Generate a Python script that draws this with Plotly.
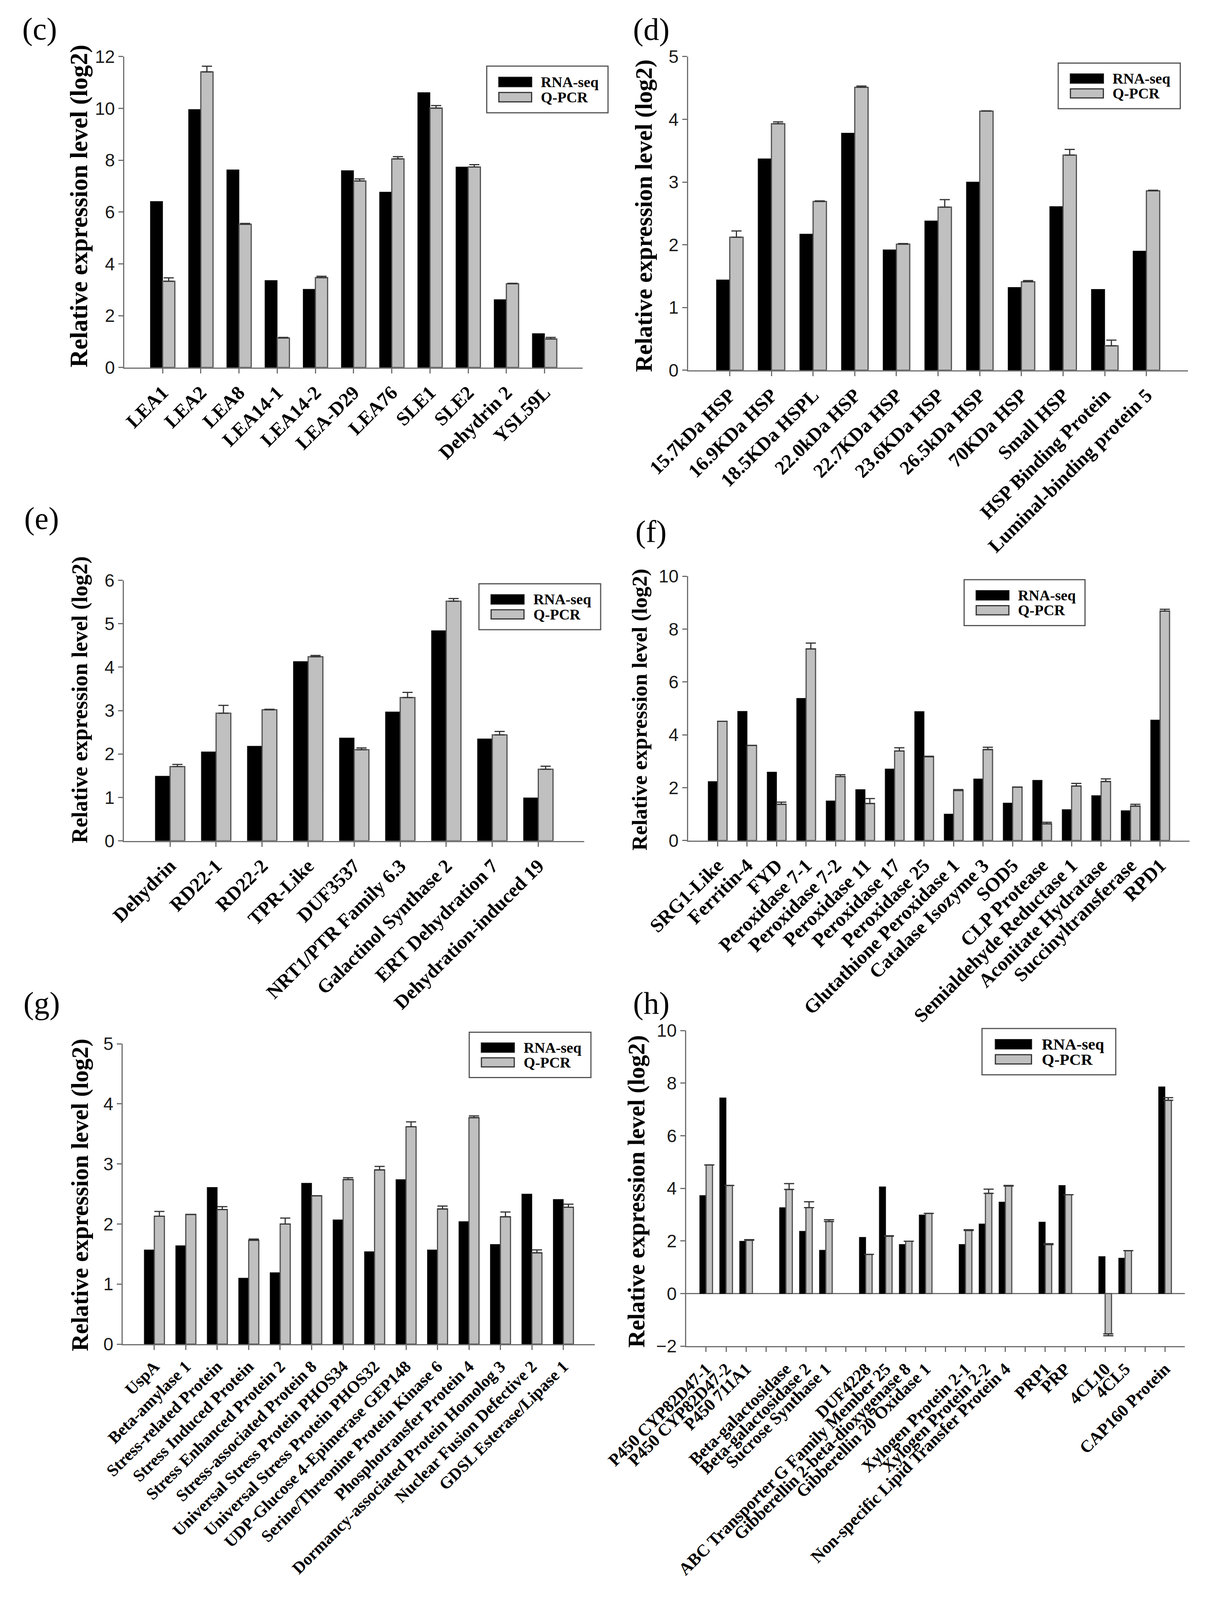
import plotly.graph_objects as go

# reference coordinate system (pixels of the original picture)
REF_W, REF_H = 3099, 4664
# size of the drawn figure (fits the visible browser area)
FIG_W, FIG_H = 3083, 4066

# ---------------- data ----------------
c_genes = ["LEA1", "LEA2", "LEA8", "LEA14-1", "LEA14-2", "LEA-D29", "LEA76",
           "SLE1", "SLE2", "Dehydrin 2", "YSL59L"]
c_rna = [6.41, 9.96, 7.63, 3.36, 3.02, 7.60, 6.77, 10.61, 7.74, 2.62, 1.31]
c_qpcr = [3.33, 11.41, 5.53, 1.14, 3.47, 7.20, 8.05, 10.01, 7.74, 3.23, 1.10]
c_err = [0.13, 0.22, 0.03, 0.02, 0.05, 0.08, 0.09, 0.10, 0.09, 0.02, 0.06]

d_genes = ["15.7kDa HSP", "16.9KDa HSP", "18.5KDa HSPL", "22.0kDa HSP",
           "22.7KDa HSP", "23.6KDa HSP", "26.5kDa HSP", "70KDa HSP",
           "Small HSP", "HSP Binding Protein", "Luminal-binding protein 5"]
d_rna = [1.44, 3.37, 2.17, 3.78, 1.92, 2.38, 3.00, 1.32, 2.61, 1.29, 1.90]
d_qpcr = [2.12, 3.93, 2.69, 4.51, 2.01, 2.60, 4.13, 1.41, 3.43, 0.39, 2.86]
d_err = [0.10, 0.03, 0.01, 0.02, 0.01, 0.12, 0.005, 0.02, 0.09, 0.09, 0.01]

e_genes = ["Dehydrin", "RD22-1", "RD22-2", "TPR-Like", "DUF3537",
           "NRT1/PTR Family 6.3", "Galactinol Synthase 2", "ERT Dehydration 7",
           "Dehydration-induced 19"]
e_rna = [1.49, 2.05, 2.18, 4.13, 2.37, 2.97, 4.84, 2.35, 0.99]
e_qpcr = [1.71, 2.94, 3.02, 4.24, 2.10, 3.30, 5.52, 2.44, 1.65]
e_err = [0.05, 0.18, 0.01, 0.03, 0.04, 0.12, 0.06, 0.08, 0.07]

f_genes = ["SRG1-Like", "Ferritin-4", "FYD", "Peroxidase 7-1", "Peroxidase 7-2",
           "Peroxidase 11", "Peroxidase 17", "Peroxidase 25",
           "Glutathione Peroxidase 1", "Catalase Isozyme 3", "SOD5",
           "CLP Protease", "Semialdehyde Reductase 1", "Aconitate Hydratase",
           "Succinyltransferase", "RPD1"]
f_rna = [2.23, 4.89, 2.59, 5.38, 1.50, 1.93, 2.71, 4.88, 1.00, 2.33, 1.42,
         2.28, 1.17, 1.70, 1.13, 4.56]
f_qpcr = [4.51, 3.60, 1.37, 7.25, 2.42, 1.40, 3.39, 3.17, 1.89, 3.44, 2.02,
          0.63, 2.06, 2.23, 1.30, 8.68]
f_err = [0.0, 0.0, 0.08, 0.22, 0.07, 0.19, 0.12, 0.02, 0.04, 0.09, 0.0,
         0.06, 0.10, 0.10, 0.07, 0.07]

g_genes = ["UspA", "Beta-amylase 1", "Stress-related Protein",
           "Stress Induced Protein", "Stress Enhanced Protein 2",
           "Stress-associated Protein 8", "Universal Stress Protein PHOS34",
           "Universal Stress Protein PHOS32", "UDP-Glucose 4-Epimerase GEP148",
           "Serine/Threonine Protein Kinase 6", "Phosphotransfer Protein 4",
           "Dormancy-associated Protein Homolog 3", "Nuclear Fusion Defective 2",
           "GDSL Esterase/Lipase 1"]
g_rna = [1.57, 1.64, 2.61, 1.10, 1.19, 2.68, 2.07, 1.54, 2.74, 1.57, 2.04,
         1.66, 2.50, 2.41]
g_qpcr = [2.13, 2.16, 2.24, 1.73, 2.00, 2.47, 2.74, 2.90, 3.62, 2.25, 3.77,
          2.12, 1.52, 2.28]
g_err = [0.08, 0.0, 0.05, 0.02, 0.10, 0.0, 0.03, 0.06, 0.08, 0.05, 0.03,
         0.08, 0.05, 0.05]

# blank slots (" ", "  ", ...) are the empty positions on the axis
h_genes = ["P450 CYP82D47-1", "P450 CYP82D47-2", "P450 711A1", " ",
           "Beta-galactosidase", "Beta-galactosidase 2", "Sucrose Synthase 1", "  ",
           "DUF4228", "ABC Transporter G Family Member 25",
           "Gibberellin 2-beta-dioxygenase 8", "Gibberellin 20 Oxidase 1", "   ",
           "Xylogen Protein 2-1", "Xylogen Protein 2-2",
           "Non-specific Lipid Transfer Protein 4", "    ",
           "PRP1", "PRP", "     ", "4CL10", "4CL5", "      ", "CAP160 Protein"]
h_rna = [3.73, 7.44, 1.99, None, 3.27, 2.37, 1.65, None, 2.14, 4.06, 1.87, 2.99,
         None, 1.87, 2.65, 3.48, None, 2.72, 4.11, None, 1.41, 1.35, None, 7.86]
h_qpcr = [4.89, 4.11, 2.03, None, 3.96, 3.27, 2.74, None, 1.49, 2.18, 1.99, 3.05,
          None, 2.40, 3.81, 4.09, None, 1.86, 3.76, None, -1.53, 1.63, None, 7.35]
h_err = [0.0, 0.0, 0.02, 0.0, 0.22, 0.22, 0.07, 0.0, 0.0, 0.02, 0.0, 0.0,
         0.0, 0.03, 0.16, 0.02, 0.0, 0.04, 0.0, 0.0, 0.07, 0.0, 0.0, 0.10]

series_names = ["RNA-seq", "Q-PCR"]
y_title = "Relative expression level (log2)"

# ---------------- layout spec (reference pixels) ----------------
panels = [
    dict(label="(c)", genes=c_genes, rna=c_rna, qpcr=c_qpcr, err=c_err,
         yr=[0, 12], dt=2, box=(312, 1491, 157, 1070),
         leg=(1244, 185, 1556, 322), lab=(94, 76), tx=195, tfs=63, tyc=596,
         lfs=38, xfs=50),
    dict(label="(d)", genes=d_genes, rna=d_rna, qpcr=d_qpcr, err=d_err,
         yr=[0, 5], dt=1, box=(1762, 3048, 157, 1078),
         leg=(2714, 176, 3028, 310), lab=(1667, 78), tx=1649, tfs=61, tyc=624,
         lfs=38, xfs=50),
    dict(label="(e)", genes=e_genes, rna=e_rna, qpcr=e_qpcr, err=e_err,
         yr=[0, 6], dt=1, box=(311, 1495, 1695, 2460),
         leg=(1224, 1705, 1537, 1840), lab=(99, 1513), tx=198, tfs=56, tyc=2045,
         lfs=38, xfs=50),
    dict(label="(f)", genes=f_genes, rna=f_rna, qpcr=f_qpcr, err=f_err,
         yr=[0, 10], dt=2, box=(1762, 3052, 1683, 2459),
         leg=(2472, 1693, 2783, 1828), lab=(1667, 1552), tx=1637, tfs=55, tyc=2075,
         lfs=38, xfs=50),
    dict(label="(g)", genes=g_genes, rna=g_rna, qpcr=g_qpcr, err=g_err,
         yr=[0, 5], dt=1, box=(308, 1522, 3056, 3938),
         leg=(1199, 3022, 1512, 3155), lab=(99, 2937), tx=198, tfs=61, tyc=3500,
         lfs=38, xfs=43),
    dict(label="(h)", genes=h_genes, rna=h_rna, qpcr=h_qpcr, err=h_err,
         yr=[-2, 10], dt=2, box=(1757, 3040, 3017, 3944),
         leg=(2518, 3011, 2862, 3147), lab=(1667, 2937), tx=1629, tfs=61, tyc=3490,
         lfs=41, xfs=44),
]

AX = "#6e6e6e"
GRAY = "#c0c0c0"
GRAY_EDGE = "#505050"
SERIF = "Liberation Serif"
SANS = "Liberation Sans"


def px(x):
    return x / REF_W


def py(y):
    return 1 - y / REF_H


fig = go.Figure()
shapes, annotations = [], []
layout = {}

for i, p in enumerate(panels):
    n = "" if i == 0 else str(i + 1)
    xa, ya = "x" + n, "y" + n
    genes = p["genes"]
    plus = [e if (v is not None and v >= 0) else 0 for v, e in zip(p["qpcr"], p["err"])]
    minus = [e if (v is not None and v < 0) else 0 for v, e in zip(p["qpcr"], p["err"])]

    fig.add_trace(go.Bar(
        x=genes, y=p["rna"], name=series_names[0], xaxis=xa, yaxis=ya,
        marker=dict(color="black", line=dict(color="#111111", width=1.5)),
        showlegend=False))
    fig.add_trace(go.Bar(
        x=genes, y=p["qpcr"], name=series_names[1], xaxis=xa, yaxis=ya,
        marker=dict(color=GRAY, line=dict(color=GRAY_EDGE, width=3)),
        error_y=dict(type="data", symmetric=False, array=plus, arrayminus=minus,
                     color="#333333", thickness=3, width=13),
        showlegend=False))

    x0, x1, yt, yb = p["box"]
    layout["xaxis" + n] = dict(
        domain=[px(x0), px(x1)], anchor=ya, type="category",
        categoryorder="array", categoryarray=genes, automargin=False,
        tickmode="array", tickvals=genes, ticktext=genes,
        range=[-1, len(genes)], showline=True, linecolor=AX, linewidth=3,
        ticks="outside", ticklen=12, tickwidth=3, tickcolor=AX,
        tickangle=-45, showgrid=False, zeroline=False,
        tickfont=dict(family=SERIF, size=p["xfs"], color="black", weight="bold"))
    layout["yaxis" + n] = dict(
        domain=[py(yb), py(yt)], anchor=xa, range=p["yr"], dtick=p["dt"],
        automargin=False,
        showline=True, linecolor=AX, linewidth=3,
        ticks="outside", ticklen=12, tickwidth=3, tickcolor=AX,
        showgrid=False, zeroline=p["yr"][0] < 0, zerolinecolor=AX,
        zerolinewidth=3,
        tickfont=dict(family=SANS, size=46, color="#1a1a1a"))

    # panel label
    annotations.append(dict(
        text=p["label"], x=px(p["lab"][0]), y=py(p["lab"][1]),
        xref="paper", yref="paper", showarrow=False, xanchor="center",
        yanchor="middle", font=dict(family=SERIF, size=80, color="black")))
    # y title
    annotations.append(dict(
        text=y_title, textangle=-90,
        x=px(p["tx"]), y=py(p["tyc"]), xref="paper", yref="paper",
        showarrow=False, xanchor="center", yanchor="middle",
        font=dict(family=SERIF, size=p["tfs"], color="black", weight="bold")))

    # legend (drawn)
    lx0, ly0, lx1, ly1 = p["leg"]
    lw, lh = lx1 - lx0, ly1 - ly0
    shapes.append(dict(type="rect", xref="paper", yref="paper",
                       x0=px(lx0), x1=px(lx1), y0=py(ly1), y1=py(ly0),
                       line=dict(color="#555555", width=3), fillcolor="white",
                       layer="above"))
    rows = [(0.24, 0.44, "black", "#111111", series_names[0]),
            (0.565, 0.765, GRAY, "#333333", series_names[1])]
    for (r0, r1, fc, lc, nm) in rows:
        shapes.append(dict(type="rect", xref="paper", yref="paper",
                           x0=px(lx0 + 0.10 * lw), x1=px(lx0 + 0.37 * lw),
                           y0=py(ly0 + r1 * lh), y1=py(ly0 + r0 * lh),
                           line=dict(color=lc, width=3), fillcolor=fc,
                           layer="above"))
        annotations.append(dict(
            text=nm, x=px(lx0 + 0.44 * lw), y=py(ly0 + (r0 + r1) / 2 * lh),
            xref="paper", yref="paper", showarrow=False, xanchor="left",
            yanchor="middle",
            font=dict(family=SERIF, size=p["lfs"], color="black", weight="bold")))

fig.update_layout(
    template="none",
    width=FIG_W, height=FIG_H,
    margin=dict(l=0, r=0, t=0, b=0, pad=0, autoexpand=False),
    paper_bgcolor="white", plot_bgcolor="white",
    barmode="group", bargap=0.36, bargroupgap=0,
    showlegend=False, shapes=shapes, annotations=annotations,
    **layout)

fig.write_html("out.html")
